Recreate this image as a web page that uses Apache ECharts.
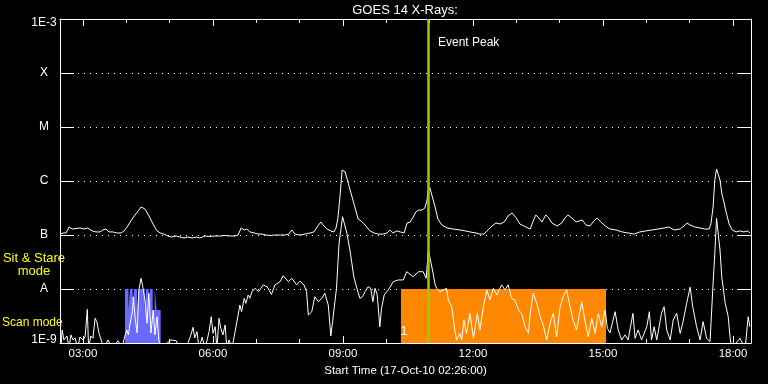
<!DOCTYPE html>
<html><head><meta charset="utf-8">
<script src="https://cdn.jsdelivr.net/npm/echarts@6/dist/echarts.min.js"></script>
<style>html,body{margin:0;padding:0;background:#000;}#c{width:768px;height:384px;}</style>
</head><body><div id="c"></div>
<script>
// time in decimal hours (17-Oct-2010), flux in W/m^2
const timeRange = [2.47, 18.415];
const hourTicks = [3,4,5,6,7,8,9,10,11,12,13,14,15,16,17,18];
const labelTicks = [3,6,9,12,15,18];
const levelLabels = {'-9':'1E-9','-8':'A','-7':'B','-6':'C','-5':'M','-4':'X','-3':'1E-3'};
const eventPeakTime = 10.96;

const longChannel = [
[2.47,1.04e-7],[2.54,1.09e-7],[2.61,1.09e-7],[2.68,1.41e-7],[2.75,1.29e-7],[2.84,1.32e-7],[2.93,1.35e-7],[3.02,1.29e-7],[3.11,1.35e-7],[3.21,1.19e-7],
[3.30,1.14e-7],[3.39,1.14e-7],[3.46,1.24e-7],[3.53,1.29e-7],[3.60,1.14e-7],[3.69,1.14e-7],[3.78,1.09e-7],[3.88,1.09e-7],[3.95,1.19e-7],[4.02,1.41e-7],
[4.09,1.74e-7],[4.15,2.07e-7],[4.22,2.45e-7],[4.29,2.90e-7],[4.34,3.30e-7],[4.38,3.30e-7],[4.43,3.03e-7],[4.50,2.45e-7],[4.57,1.90e-7],[4.64,1.47e-7],
[4.71,1.19e-7],[4.78,1.09e-7],[4.87,1.04e-7],[4.96,0.958e-7],[5.05,0.918e-7],[5.15,0.958e-7],[5.24,0.918e-7],[5.33,0.88e-7],[5.42,0.918e-7],[5.52,0.88e-7],
[5.61,0.918e-7],[5.70,0.88e-7],[5.82,0.958e-7],[5.93,0.938e-7],[6.05,0.958e-7],[6.16,0.958e-7],[6.28,0.979e-7],[6.39,0.958e-7],[6.51,0.958e-7],[6.58,1.00e-7],
[6.65,1.35e-7],[6.72,1.24e-7],[6.78,1.29e-7],[6.85,1.14e-7],[6.95,1.09e-7],[7.04,1.04e-7],[7.13,1.04e-7],[7.22,1.00e-7],[7.32,0.979e-7],[7.43,1.00e-7],
[7.55,1.00e-7],[7.66,1.00e-7],[7.75,1.04e-7],[7.82,1.24e-7],[7.89,1.04e-7],[8.01,1.00e-7],[8.12,1.04e-7],[8.24,1.09e-7],[8.33,1.14e-7],[8.42,1.47e-7],
[8.49,1.74e-7],[8.56,1.47e-7],[8.63,1.29e-7],[8.72,1.19e-7],[8.79,1.14e-7],[8.84,1.35e-7],[8.88,1.98e-7],[8.93,5.05e-7],[8.98,16.0e-7],[9.01,17.4e-7],
[9.05,14.7e-7],[9.12,9.18e-7],[9.21,5.05e-7],[9.28,3.16e-7],[9.35,1.98e-7],[9.42,1.82e-7],[9.46,1.90e-7],[9.53,1.47e-7],[9.62,1.19e-7],[9.72,1.09e-7],
[9.81,1.04e-7],[9.92,1.04e-7],[10.02,1.09e-7],[10.08,1.24e-7],[10.15,1.09e-7],[10.25,1.19e-7],[10.32,1.14e-7],[10.41,1.09e-7],[10.48,1.67e-7],[10.55,1.74e-7],
[10.62,2.15e-7],[10.68,2.67e-7],[10.75,2.90e-7],[10.82,2.90e-7],[10.89,3.16e-7],[10.94,4.45e-7],[10.96,6.81e-7],[11.00,7.74e-7],[11.05,5.50e-7],[11.12,3.44e-7],
[11.19,1.98e-7],[11.28,1.53e-7],[11.40,1.35e-7],[11.54,1.29e-7],[11.70,1.24e-7],[11.82,1.19e-7],[11.93,1.14e-7],[12.07,1.09e-7],[12.16,1.04e-7],[12.25,1.04e-7],
[12.35,1.24e-7],[12.44,1.47e-7],[12.53,1.67e-7],[12.62,1.60e-7],[12.72,1.74e-7],[12.81,2.25e-7],[12.90,2.55e-7],[13.00,2.07e-7],[13.08,1.60e-7],[13.22,1.41e-7],
[13.32,1.29e-7],[13.38,1.74e-7],[13.45,2.35e-7],[13.52,2.07e-7],[13.59,1.74e-7],[13.68,2.35e-7],[13.75,2.07e-7],[13.82,1.67e-7],[13.94,1.47e-7],[14.05,1.67e-7],
[14.12,2.07e-7],[14.19,2.35e-7],[14.28,2.07e-7],[14.38,1.74e-7],[14.45,1.82e-7],[14.52,1.90e-7],[14.61,1.53e-7],[14.70,1.47e-7],[14.79,1.82e-7],[14.86,2.07e-7],
[14.95,1.74e-7],[15.05,1.47e-7],[15.16,1.29e-7],[15.30,1.24e-7],[15.44,1.14e-7],[15.58,1.09e-7],[15.72,1.04e-7],[15.85,1.14e-7],[15.99,1.19e-7],[16.13,1.24e-7],
[16.27,1.29e-7],[16.41,1.35e-7],[16.52,1.41e-7],[16.64,1.24e-7],[16.78,1.29e-7],[16.87,1.47e-7],[16.94,1.67e-7],[17.01,1.53e-7],[17.12,1.41e-7],[17.24,1.35e-7],
[17.35,1.29e-7],[17.45,1.29e-7],[17.49,1.60e-7],[17.54,3.30e-7],[17.58,10.4e-7],[17.62,16.7e-7],[17.65,16.0e-7],[17.70,10.4e-7],[17.74,5.99e-7],[17.79,4.08e-7],
[17.84,2.67e-7],[17.91,1.60e-7],[17.98,1.24e-7],[18.07,1.14e-7],[18.16,1.19e-7],[18.25,1.14e-7],[18.34,1.19e-7],[18.39,1.09e-7]
];

const shortChannel = [
[2.49,0.8e-9],[2.52,1.74e-9],[2.56,1.14e-9],[2.63,1.35e-9],[2.68,0.8e-9],[2.72,1.41e-9],[2.77,1.14e-9],[2.82,1.24e-9],[2.88,0.8e-9],[2.93,1.29e-9],
[3.00,1.14e-9],[3.05,1.31e-9],[3.10,4.21e-9],[3.13,0.8e-9],[3.18,1.35e-9],[3.23,1.22e-9],[3.28,2.87e-9],[3.32,2.48e-9],[3.37,1.51e-9],[3.42,1.14e-9],
[3.48,0.8e-9],[3.58,1.14e-9],[3.67,0.8e-9],[3.81,1.10e-9],[3.90,0.8e-9],[3.95,1.19e-9],[4.01,1.74e-9],[4.05,1.41e-9],[4.08,2.15e-9],[4.14,3.80e-9],
[4.16,7.19e-9],[4.20,3.07e-9],[4.25,1.53e-9],[4.29,9.58e-9],[4.34,15.8e-9],[4.38,11.0e-9],[4.43,6.25e-9],[4.48,2.32e-9],[4.52,8.32e-9],[4.57,1.53e-9],
[4.62,4.08e-9],[4.66,1.41e-9],[4.71,3.07e-9],[4.75,1.14e-9],[4.80,0.8e-9],[5.03,1.14e-9],[5.15,1.10e-9],[5.24,0.8e-9],[5.38,0.8e-9],[5.49,1.41e-9],
[5.54,1.95e-9],[5.58,1.24e-9],[5.63,1.62e-9],[5.68,0.8e-9],[5.75,1.28e-9],[5.82,0.8e-9],[5.91,1.62e-9],[5.96,3.07e-9],[6.00,1.51e-9],[6.05,2.00e-9],
[6.09,0.8e-9],[6.14,2.87e-9],[6.18,1.87e-9],[6.23,1.41e-9],[6.28,2.15e-9],[6.32,0.8e-9],[6.37,1.14e-9],[6.44,0.8e-9],[6.58,3.30e-9],[6.62,5.05e-9],
[6.66,3.80e-9],[6.72,6.72e-9],[6.76,5.43e-9],[6.81,7.74e-9],[6.85,6.72e-9],[6.90,8.91e-9],[6.97,10.3e-9],[7.05,8.91e-9],[7.16,11.9e-9],[7.25,11.0e-9],
[7.35,7.96e-9],[7.43,11.9e-9],[7.55,13.7e-9],[7.62,17.6e-9],[7.74,13.7e-9],[7.82,15.8e-9],[7.93,11.9e-9],[8.01,14.0e-9],[8.10,11.9e-9],[8.16,8.91e-9],
[8.20,3.30e-9],[8.28,3.80e-9],[8.35,7.19e-9],[8.43,5.83e-9],[8.51,6.72e-9],[8.58,8.32e-9],[8.66,5.05e-9],[8.72,1.35e-9],[8.76,2.48e-9],[8.85,10.3e-9],
[8.91,71.2e-9],[8.95,124e-9],[8.99,218e-9],[9.09,108e-9],[9.16,52.7e-9],[9.25,16.9e-9],[9.32,10.3e-9],[9.39,6.72e-9],[9.45,7.19e-9],[9.51,8.91e-9],
[9.58,11.0e-9],[9.64,10.3e-9],[9.69,5.83e-9],[9.74,10.3e-9],[9.79,7.74e-9],[9.85,2.00e-9],[9.89,4.39e-9],[9.95,7.74e-9],[10.01,8.91e-9],[10.07,10.3e-9],
[10.16,13.7e-9],[10.28,14.7e-9],[10.39,14.7e-9],[10.47,20.9e-9],[10.51,19.5e-9],[10.62,16.9e-9],[10.74,20.9e-9],[10.85,20.9e-9],[10.92,15.8e-9],[10.97,52.7e-9],
[11.01,52.7e-9],[11.08,19.5e-9],[11.12,12.7e-9],[11.16,10.3e-9],[11.24,8.91e-9],[11.31,9.58e-9],[11.39,10.3e-9],[11.43,6.25e-9],[11.51,4.70e-9],[11.58,1.74e-9],
[11.62,1.14e-9],[11.70,1.51e-9],[11.74,1.14e-9],[11.79,2.67e-9],[11.85,1.51e-9],[11.93,3.54e-9],[12.01,1.22e-9],[12.10,3.54e-9],[12.16,1.74e-9],[12.24,4.70e-9],
[12.32,9.58e-9],[12.39,6.25e-9],[12.47,10.3e-9],[12.55,7.74e-9],[12.66,11.9e-9],[12.74,9.58e-9],[12.81,11.9e-9],[12.89,6.72e-9],[12.97,6.25e-9],[13.05,4.08e-9],
[13.12,3.54e-9],[13.20,2.00e-9],[13.28,1.51e-9],[13.32,3.54e-9],[13.39,8.32e-9],[13.47,5.43e-9],[13.55,3.07e-9],[13.62,2.15e-9],[13.70,1.14e-9],[13.78,2.32e-9],
[13.85,3.54e-9],[13.93,1.31e-9],[14.01,4.70e-9],[14.08,7.19e-9],[14.16,9.58e-9],[14.24,4.70e-9],[14.31,2.67e-9],[14.39,1.74e-9],[14.51,5.83e-9],[14.58,2.67e-9],
[14.66,1.31e-9],[14.74,2.87e-9],[14.82,1.51e-9],[14.89,3.54e-9],[14.97,2.00e-9],[15.05,4.08e-9],[15.10,1.87e-9],[15.16,1.53e-9],[15.28,3.80e-9],[15.35,1.74e-9],
[15.43,1.14e-9],[15.51,1.41e-9],[15.58,1.14e-9],[15.69,3.54e-9],[15.74,1.22e-9],[15.81,1.74e-9],[15.89,1.14e-9],[16.01,2.00e-9],[16.07,3.80e-9],[16.12,1.14e-9],
[16.18,2.00e-9],[16.24,1.14e-9],[16.35,3.54e-9],[16.41,4.70e-9],[16.47,1.74e-9],[16.55,1.14e-9],[16.62,2.67e-9],[16.70,3.54e-9],[16.78,1.51e-9],[16.84,2.32e-9],
[16.93,5.43e-9],[17.01,10.8e-9],[17.07,4.70e-9],[17.16,2.00e-9],[17.24,1.14e-9],[17.31,2.48e-9],[17.39,1.22e-9],[17.47,1.06e-9],[17.54,12.7e-9],[17.58,46.4e-9],
[17.62,204e-9],[17.70,52.7e-9],[17.74,16.9e-9],[17.82,5.43e-9],[17.89,3.07e-9],[17.93,1.31e-9],[17.97,0.8e-9],[18.16,1.22e-9],[18.28,0.8e-9],[18.35,3.07e-9],
[18.39,2.00e-9]
];

// instrument mode blocks: [start time, block height in decades above 1E-9]
const blueMode = [
[3.969,1],[4.050,0.61],[4.085,1],[4.147,0.61],[4.177,1],[4.246,0.61],[4.281,1],[4.424,0.61],
[4.454,1],[4.516,0.61],[4.546,1],[4.608,0.61],[4.655,1],[4.700,0.61],[4.793,0]
];
const orangeMode = [[10.338,1],[15.069,0]];

const FONT = 'Liberation Sans';
const WHITE = '#ffffff';
const hh = v => { const h = Math.round(v); return (h < 10 ? '0' : '') + h + ':00'; };

function xAxisDef(position, tickLen, ticks, withLabels) {
  const a = {
    type: 'value', position: position, min: timeRange[0], max: timeRange[1],
    axisLine: { show: withLabels, onZero: false, lineStyle: { color: WHITE, width: 1 } },
    axisTick: { show: true, inside: true, length: tickLen, customValues: ticks, lineStyle: { color: WHITE, width: 1 } },
    axisLabel: { show: false },
    splitLine: { show: false }
  };
  if (withLabels && position === 'bottom') {
    a.axisLabel = { show: true, customValues: labelTicks, formatter: hh, color: WHITE, fontFamily: FONT, fontSize: 11.5, margin: 5 };
    a.name = 'Start Time (17-Oct-10 02:26:00)';
    a.nameLocation = 'middle';
    a.nameGap = 19;
    a.nameTextStyle = { color: WHITE, fontFamily: FONT, fontSize: 11.5 };
  }
  return a;
}

function yLabel(v) {
  const k = Math.round(Math.log10(v));
  const t = levelLabels[String(k)] || '';
  if (k === -9) return '{lo|' + t + '}';
  if (k === -3) return '{hi|' + t + '}';
  return t;
}

const chart = echarts.init(document.getElementById('c'), null, { renderer: 'canvas' });
chart.setOption({
  backgroundColor: '#000000',
  animation: false,
  grid: { left: 60, right: 17, top: 19, bottom: 41 },
  xAxis: [
    xAxisDef('bottom', 7, labelTicks, true),
    xAxisDef('bottom', 4, hourTicks, false),
    xAxisDef('top', 7, labelTicks, true),
    xAxisDef('top', 4, hourTicks, false)
  ],
  yAxis: [
    { type: 'log', logBase: 10, min: 1e-9, max: 1e-3, splitNumber: 6, position: 'left',
      axisLine: { show: true, onZero: false, lineStyle: { color: WHITE, width: 1 } },
      axisTick: { show: true, inside: true, length: 14, lineStyle: { color: WHITE, width: 1 } },
      axisLabel: { show: true, color: WHITE, fontFamily: FONT, fontSize: 12, align: 'center', margin: 16,
        formatter: yLabel,
        rich: {
          lo: { color: WHITE, fontFamily: FONT, fontSize: 12, padding: [0, 0, 6, 0] },
          hi: { color: WHITE, fontFamily: FONT, fontSize: 12, padding: [8, 0, 0, 0] }
        } },
      splitLine: { show: true, lineStyle: { color: WHITE, width: 1, type: [1, 5] } } },
    { type: 'log', logBase: 10, min: 1e-9, max: 1e-3, splitNumber: 6, position: 'right',
      axisLine: { show: true, onZero: false, lineStyle: { color: WHITE, width: 1 } },
      axisTick: { show: true, inside: true, length: 14, lineStyle: { color: WHITE, width: 1 } },
      axisLabel: { show: false }, splitLine: { show: false } },
    { type: 'value', min: 0, max: 6, show: false, splitLine: { show: false } }
  ],
  series: [
    { type: 'line', name: 'blue mode', xAxisIndex: 0, yAxisIndex: 2, data: blueMode, step: 'end',
      symbol: 'none', silent: true, z: 1, lineStyle: { width: 0 }, areaStyle: { color: '#6a6aff', opacity: 1 } },
    { type: 'line', name: 'orange mode', xAxisIndex: 0, yAxisIndex: 2, data: orangeMode, step: 'end',
      symbol: 'none', silent: true, z: 1, lineStyle: { width: 0 }, areaStyle: { color: '#ff8800', opacity: 1 } },
    { type: 'line', name: '0.5-4 A', xAxisIndex: 0, yAxisIndex: 0, data: shortChannel,
      symbol: 'none', silent: true, z: 3, lineStyle: { color: WHITE, width: 1 } },
    { type: 'line', name: '1-8 A', xAxisIndex: 0, yAxisIndex: 0, data: longChannel,
      symbol: 'none', silent: true, z: 3, lineStyle: { color: WHITE, width: 1 },
      markLine: { silent: true, symbol: 'none', z: 6, label: { show: false },
        lineStyle: { color: '#99cc00', width: 2.5, type: 'solid' }, data: [{ xAxis: eventPeakTime }] } }
  ],
  graphic: [
    { type: 'text', x: 405, y: 10, style: { text: 'GOES 14 X-Rays:', fill: WHITE, font: '13px "Liberation Sans"', align: 'center', verticalAlign: 'middle' } },
    { type: 'text', x: 438, y: 43, style: { text: 'Event Peak', fill: WHITE, font: '12px "Liberation Sans"', align: 'left', verticalAlign: 'middle' } },
    { type: 'text', x: 34, y: 258, style: { text: 'Sit & Stare', fill: '#ffff00', font: '13px "Liberation Sans"', align: 'center', verticalAlign: 'middle' } },
    { type: 'text', x: 34, y: 271, style: { text: 'mode', fill: '#ffff00', font: '13px "Liberation Sans"', align: 'center', verticalAlign: 'middle' } },
    { type: 'text', x: 2, y: 323, style: { text: 'Scan mode', fill: '#ffff00', font: '12px "Liberation Sans"', align: 'left', verticalAlign: 'middle' } },
    { type: 'text', x: 404, y: 331, z: 10, style: { text: '1', fill: WHITE, font: '13px "Liberation Sans"', align: 'center', verticalAlign: 'middle' } }
  ]
});
</script></body></html>
